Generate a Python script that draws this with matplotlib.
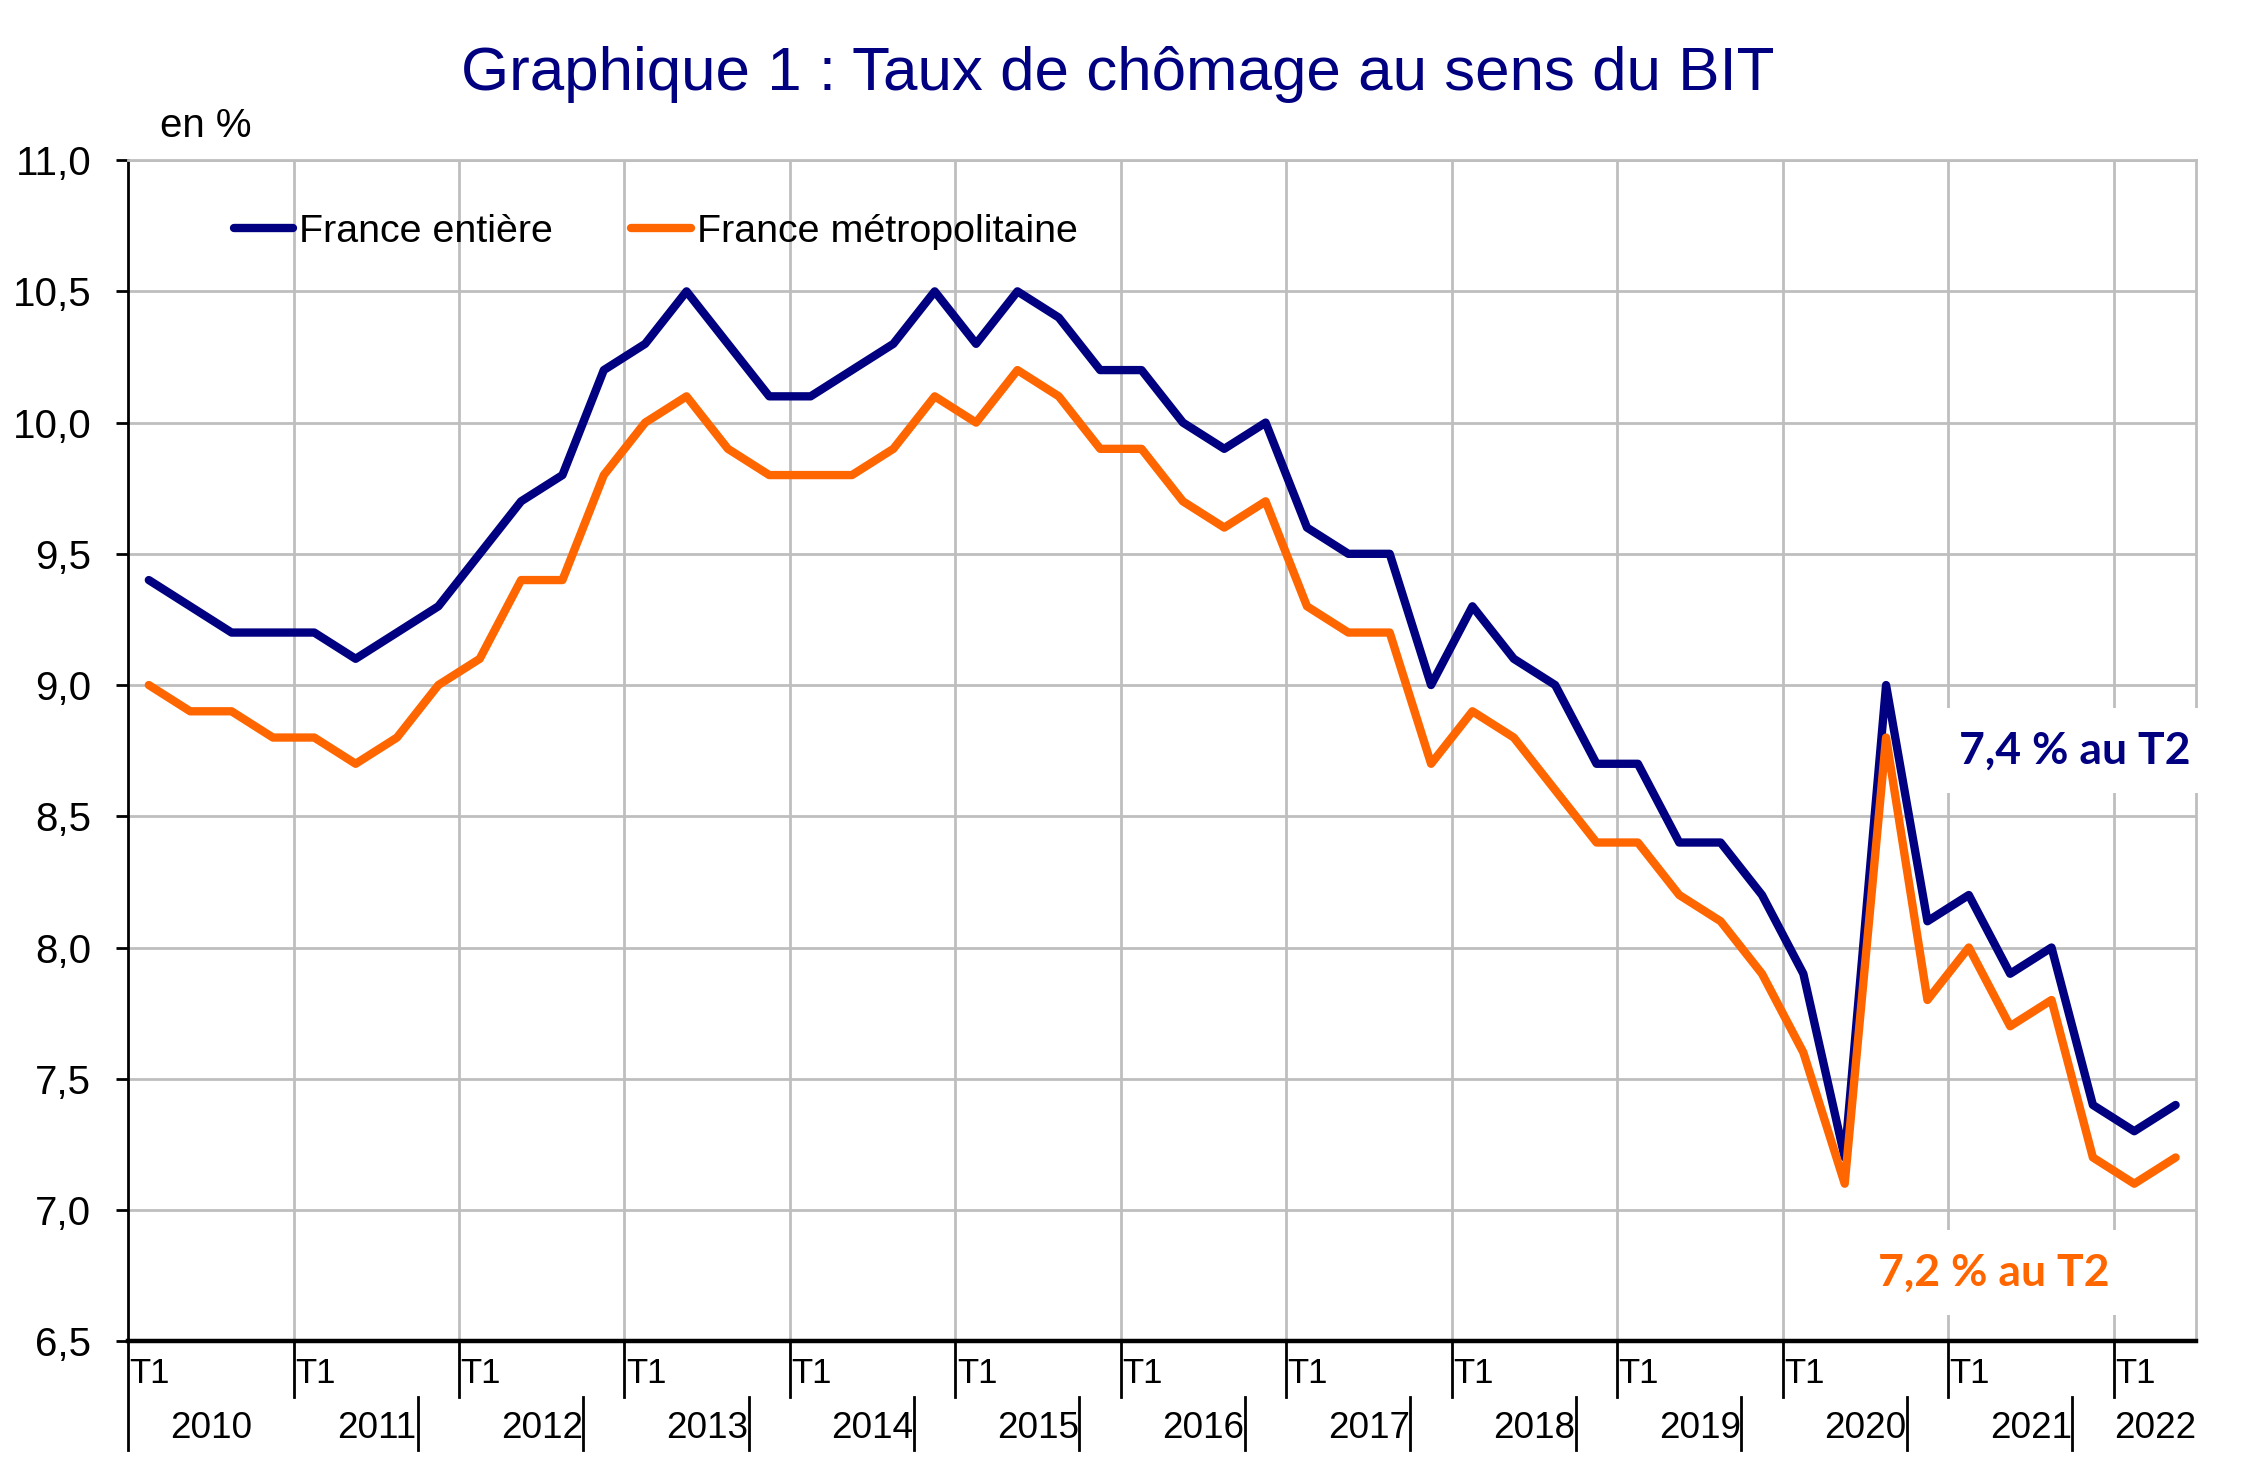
import matplotlib
matplotlib.use("Agg")
import matplotlib.pyplot as plt

years = [str(y) for y in range(2010, 2023)]
quarters_per_year = [4] * 12 + [2]

# taux de chomage, T1 2010 -> T2 2022
france_entiere = [9.4, 9.3, 9.2, 9.2,
                  9.2, 9.1, 9.2, 9.3,
                  9.5, 9.7, 9.8, 10.2,
                  10.3, 10.5, 10.3, 10.1,
                  10.1, 10.2, 10.3, 10.5,
                  10.3, 10.5, 10.4, 10.2,
                  10.2, 10.0, 9.9, 10.0,
                  9.6, 9.5, 9.5, 9.0,
                  9.3, 9.1, 9.0, 8.7,
                  8.7, 8.4, 8.4, 8.2,
                  7.9, 7.2, 9.0, 8.1,
                  8.2, 7.9, 8.0, 7.4,
                  7.3, 7.4]
france_metro = [9.0, 8.9, 8.9, 8.8,
                8.8, 8.7, 8.8, 9.0,
                9.1, 9.4, 9.4, 9.8,
                10.0, 10.1, 9.9, 9.8,
                9.8, 9.8, 9.9, 10.1,
                10.0, 10.2, 10.1, 9.9,
                9.9, 9.7, 9.6, 9.7,
                9.3, 9.2, 9.2, 8.7,
                8.9, 8.8, 8.6, 8.4,
                8.4, 8.2, 8.1, 7.9,
                7.6, 7.1, 8.8, 7.8,
                8.0, 7.7, 7.8, 7.2,
                7.1, 7.2]
y_ticks = [6.5, 7.0, 7.5, 8.0, 8.5, 9.0, 9.5, 10.0, 10.5, 11.0]

NAVY = "#000080"
ORANGE = "#FF6600"
GRID = "#BEBEBE"

plt.rcParams['font.family'] = ['Liberation Sans', 'DejaVu Sans']

fig = plt.figure(figsize=(11.24, 7.345), dpi=200)
ax = fig.add_axes([0.057, 0.087, 0.92, 0.804])

n = len(france_entiere)
x = list(range(n))
ax.plot(x, france_entiere, color=NAVY, lw=3.0, solid_joinstyle='round',
        solid_capstyle='round', label="France entière", zorder=4)
ax.plot(x, france_metro, color=ORANGE, lw=3.0, solid_joinstyle='round',
        solid_capstyle='round', label="France métropolitaine", zorder=4)

ax.set_xlim(-0.5, n - 0.5)
ax.set_ylim(6.5, 11.0)
ax.set_yticks(y_ticks)
ax.set_yticklabels([f"{v:.1f}".replace('.', ',') for v in y_ticks], fontsize=14.5)
ax.tick_params(axis='y', direction='out', length=4.3, width=1, pad=9)
ax.set_xticks([])
ax.yaxis.grid(True, color=GRID, lw=1)
ax.set_axisbelow(True)

# year boundaries
starts = [0]
for q in quarters_per_year[:-1]:
    starts.append(starts[-1] + q)
for s in starts[1:]:
    ax.axvline(s - 0.5, color=GRID, lw=1, zorder=1)

for side in ['top', 'right']:
    ax.spines[side].set_color(GRID)
    ax.spines[side].set_linewidth(1)
ax.spines['left'].set_linewidth(1)
ax.spines['bottom'].set_linewidth(1.6)

# multi-level category axis
tr = ax.get_xaxis_transform()
tick_end = -0.047
sep_end = -0.092
for i, s in enumerate(starts):
    ax.plot([s - 0.5, s - 0.5], [0, sep_end if i == 0 else tick_end],
            transform=tr, color='black', lw=1, clip_on=False)
    ax.annotate("T1", xy=(s - 0.5, -0.027), xycoords=tr, xytext=(0.5, 0),
                textcoords='offset points', ha='left', va='center', fontsize=12.5)
for i, s in enumerate(starts):
    ax.text(s - 0.5 + quarters_per_year[i] / 2, -0.074, years[i], transform=tr,
            ha='center', va='center', fontsize=13.3)
    if 1 <= i <= 11:
        ax.plot([s + 2.5, s + 2.5], [tick_end, sep_end], transform=tr,
                color='black', lw=1, clip_on=False)

ax.legend(loc='center left', bbox_to_anchor=(0.051, 0.939), frameon=False,
          ncol=2, fontsize=14.2, handlelength=1.5, handletextpad=0.15,
          columnspacing=2.0, borderpad=0, borderaxespad=0)

ax.text(0.941, 0.500, "7,4 % au T2", transform=ax.transAxes, ha='center',
        va='center', fontsize=16, fontweight='bold', color=NAVY,
        family=['Lato', 'DejaVu Sans'], zorder=6, clip_on=False,
        bbox=dict(facecolor='white', edgecolor='none', pad=8))
ax.text(0.902, 0.058, "7,2 % au T2", transform=ax.transAxes, ha='center',
        va='center', fontsize=16, fontweight='bold', color=ORANGE,
        family=['Lato', 'DejaVu Sans'], zorder=6, clip_on=False,
        bbox=dict(facecolor='white', edgecolor='none', pad=8))

fig.text(0.497, 0.949, "Graphique 1 : Taux de chômage au sens du BIT",
         ha='center', va='center', fontsize=22.3, color=NAVY)
fig.text(0.071, 0.914, "en %", ha='left', va='center', fontsize=14.5)

fig.savefig("out.png", dpi=200)
